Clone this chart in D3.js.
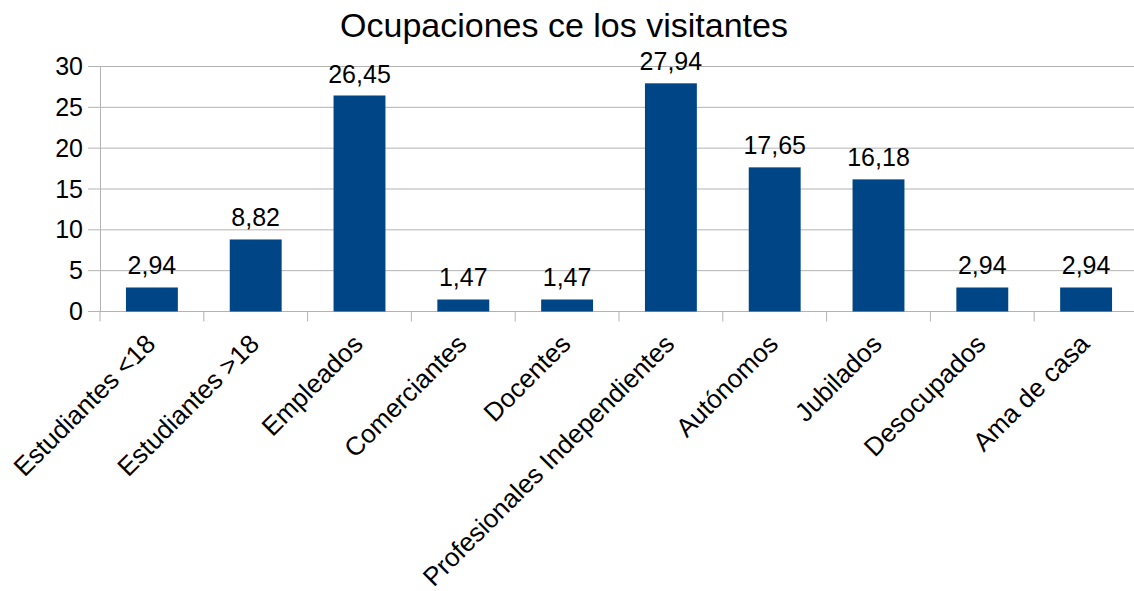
<!DOCTYPE html>
<html>
<head>
<meta charset="utf-8">
<script src="https://cdn.jsdelivr.net/npm/d3@7"></script>
<style>
  body { margin: 0; background: #fff; }
  svg { display: block; font-family: "Liberation Sans", Arial, sans-serif; }
</style>
</head>
<body>
<div id="chart"></div>
<script>
const title = 'Ocupaciones ce los visitantes';
const categories = ['Estudiantes <18', 'Estudiantes >18', 'Empleados', 'Comerciantes', 'Docentes',
  'Profesionales Independientes', 'Autónomos', 'Jubilados', 'Desocupados', 'Ama de casa'];
const values = [2.94, 8.82, 26.45, 1.47, 1.47, 27.94, 17.65, 16.18, 2.94, 2.94];
const yTicks = [0, 5, 10, 15, 20, 25, 30];

const W = 1134, H = 591;
const margin = { top: 66.5, right: -4, bottom: 279.5, left: 100 };
const width = W - margin.left - margin.right;
const height = H - margin.top - margin.bottom;

const svg = d3.select('#chart').append('svg')
  .attr('width', W)
  .attr('height', H);

svg.append('text')
  .attr('x', 564)
  .attr('y', 37)
  .attr('text-anchor', 'middle')
  .style('font-size', '34px')
  .attr('fill', '#000')
  .text(title);

const g = svg.append('g')
  .attr('transform', `translate(${margin.left}, ${margin.top})`);

const x = d3.scaleBand().domain(categories).range([0, width]).paddingInner(0.5).paddingOuter(0.25);
const xb = d3.scaleBand().domain(categories).range([0, width]);
const y = d3.scaleLinear().domain([0, 30]).range([height, 0]);

// gridlines
g.append('g').selectAll('line')
  .data(yTicks).enter()
  .append('line')
  .attr('x1', -12)
  .attr('x2', width)
  .attr('y1', (d) => y(d))
  .attr('y2', (d) => y(d))
  .attr('stroke', '#b3b3b3')
  .attr('stroke-width', 1);

// y axis
const yAxis = g.append('g')
  .call(d3.axisLeft(y).tickValues(yTicks).tickSize(0).tickPadding(17));
yAxis.select('.domain').attr('stroke', '#b3b3b3');
yAxis.selectAll('text').style('font-size', '25px').attr('fill', '#000').attr('font-family', 'Liberation Sans, Arial, sans-serif');

// x axis ticks between categories
g.append('g').selectAll('line')
  .data(categories.concat(['end'])).enter()
  .append('line')
  .attr('x1', (d, i) => i * xb.step())
  .attr('x2', (d, i) => i * xb.step())
  .attr('y1', height)
  .attr('y2', height + 10)
  .attr('stroke', '#b3b3b3');

g.append('line')
  .attr('x1', 0).attr('x2', width)
  .attr('y1', height).attr('y2', height)
  .attr('stroke', '#b3b3b3');

// bars
g.append('g').selectAll('rect')
  .data(values).enter()
  .append('rect')
  .attr('x', (d, i) => x(categories[i]))
  .attr('y', (d) => y(d))
  .attr('width', x.bandwidth())
  .attr('height', (d) => height - y(d))
  .attr('fill', '#004586');

// value labels
g.append('g').selectAll('text')
  .data(values).enter()
  .append('text')
  .attr('x', (d, i) => x(categories[i]) + x.bandwidth() / 2)
  .attr('y', (d) => y(d) - 13)
  .attr('text-anchor', 'middle')
  .style('font-size', '25px')
  .attr('fill', '#000')
  .text((d) => d.toFixed(2).replace('.', ','));

// category labels
g.append('g').selectAll('text')
  .data(categories).enter()
  .append('text')
  .attr('transform', (d) => `translate(${xb(d) + xb.bandwidth() / 2 + 5}, ${height + 34}) rotate(-45)`)
  .attr('text-anchor', 'end')
  .style('font-size', '26px')
  .attr('fill', '#000')
  .text((d) => d);
</script>
</body>
</html>
